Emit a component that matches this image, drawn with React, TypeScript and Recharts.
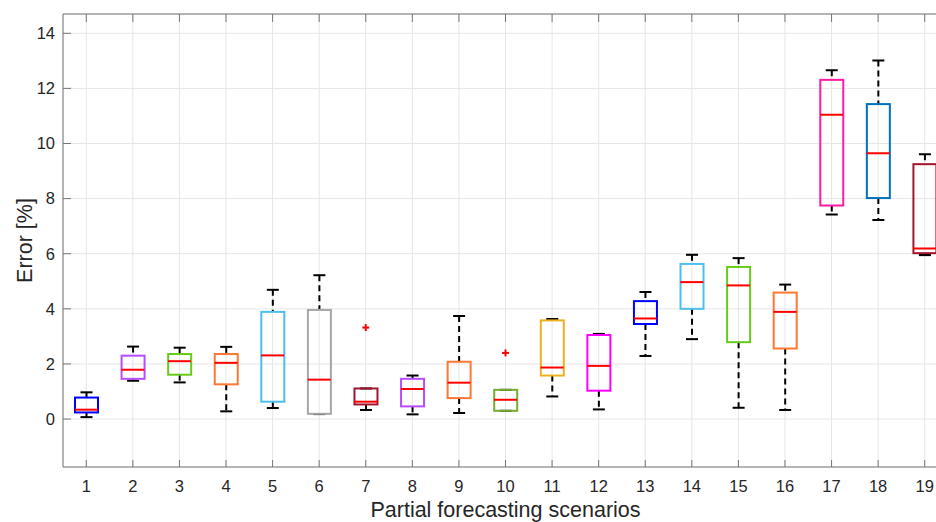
import React from 'react';
import { ComposedChart, Bar, Scatter, XAxis, YAxis, CartesianGrid } from 'recharts';

const scenarios = ['1', '2', '3', '4', '5', '6', '7', '8', '9', '10', '11', '12', '13', '14', '15', '16', '17', '18', '19'];
const whiskerLow = [0.07, 1.39, 1.33, 0.28, 0.4, 0.18, 0.33, 0.17, 0.22, 0.3, 0.82, 0.35, 2.29, 2.9, 0.41, 0.33, 7.42, 7.22, 5.95];
const quartile1 = [0.24, 1.46, 1.61, 1.26, 0.63, 0.19, 0.53, 0.46, 0.76, 0.3, 1.58, 1.03, 3.45, 4.0, 2.79, 2.56, 7.75, 8.02, 6.02];
const medians = [0.34, 1.79, 2.1, 2.04, 2.31, 1.43, 0.63, 1.09, 1.32, 0.7, 1.87, 1.93, 3.65, 4.97, 4.85, 3.89, 11.04, 9.65, 6.19];
const quartile3 = [0.78, 2.3, 2.36, 2.36, 3.89, 3.96, 1.11, 1.46, 2.08, 1.06, 3.58, 3.05, 4.28, 5.63, 5.52, 4.59, 12.31, 11.43, 9.25];
const whiskerHigh = [0.97, 2.63, 2.59, 2.62, 4.69, 5.22, 1.11, 1.58, 3.74, 1.06, 3.63, 3.09, 4.61, 5.96, 5.84, 4.88, 12.66, 13.01, 9.61];
const outlierScenarios = ['7', '10'];
const outlierValues = [3.32, 2.4];
const yTicks = [0, 2, 4, 6, 8, 10, 12, 14];

const boxColors = [
  '#0000ff', '#b84cff', '#66cc1a', '#ff7733', '#4dbeee', '#a6a6a6', '#a2142f', '#b84cff', '#ff7733', '#77ac30',
  '#edb120', '#ff00ff', '#0000ff', '#4dbeee', '#66cc1a', '#ff7733', '#ff1aa6', '#0072bd', '#a2142f',
];

const data = scenarios.map((name, i) => {
  const k = outlierScenarios.indexOf(name);
  return {
    name,
    lower: [whiskerLow[i], quartile1[i]],
    box: [quartile1[i], quartile3[i]],
    upper: [quartile3[i], whiskerHigh[i]],
    median: medians[i],
    outlier: k >= 0 ? outlierValues[k] : null,
    color: boxColors[i],
  };
});

const font = '"Liberation Sans", Arial, Helvetica, sans-serif';
const axisGray = '#767676';
const textColor = '#262626';

const UpperWhisker = (p: any) => {
  const cx = p.x + p.width / 2;
  return (
    <g>
      <line x1={cx} x2={cx} y1={p.y} y2={p.y + p.height} stroke="#000" strokeWidth={2} strokeDasharray="6 4" />
      <line x1={cx - 6} x2={cx + 6} y1={p.y} y2={p.y} stroke="#000" strokeWidth={2} />
    </g>
  );
};

const LowerWhisker = (p: any) => {
  const cx = p.x + p.width / 2;
  const yb = p.y + p.height;
  return (
    <g>
      <line x1={cx} x2={cx} y1={p.y} y2={yb} stroke="#000" strokeWidth={2} strokeDasharray="6 4" />
      <line x1={cx - 6} x2={cx + 6} y1={yb} y2={yb} stroke="#000" strokeWidth={2} />
    </g>
  );
};

const BoxShape = (p: any) => (
  <rect x={p.x} y={p.y} width={p.width} height={p.height} fill="none" stroke={p.payload.color} strokeWidth={2} />
);

const MedianShape = (p: any) => (
  <line x1={p.cx - 11.5} x2={p.cx + 11.5} y1={p.cy} y2={p.cy} stroke="#ff0000" strokeWidth={2} />
);

const OutlierShape = (p: any) => {
  if (p.payload == null || p.payload.outlier == null || p.cy == null) return <g />;
  return (
    <g stroke="#ff0000" strokeWidth={2}>
      <line x1={p.cx - 3.5} x2={p.cx + 3.5} y1={p.cy} y2={p.cy} />
      <line x1={p.cx} x2={p.cx} y1={p.cy - 3.5} y2={p.cy + 3.5} />
    </g>
  );
};

const tickStyle = { fill: textColor, fontSize: 16.5, fontFamily: font };

export default function App() {
  return (
    <div style={{ position: 'fixed', left: 0, top: 0, width: 936, height: 522, overflow: 'hidden', background: '#fff' }}>
      <ComposedChart width={948} height={522} data={data} margin={{ top: 13, right: 0, bottom: 0, left: 0 }}>
        <CartesianGrid xAxisId="b" stroke="#e6e6e6" />
        <XAxis
          xAxisId="b"
          dataKey="name"
          height={55}
          tickSize={-7}
          tickMargin={20}
          tick={tickStyle}
          axisLine={{ stroke: axisGray }}
          tickLine={{ stroke: axisGray }}
          label={(lp: any) => {
            const vb = lp.viewBox;
            return (
              <text x={vb.x + vb.width / 2} y={517} textAnchor="middle" fill={textColor} fontSize={21.5} fontFamily={font}>
                Partial forecasting scenarios
              </text>
            );
          }}
        />
        <XAxis
          xAxisId="t"
          dataKey="name"
          orientation="top"
          height={1}
          tickSize={-8}
          tickFormatter={() => ''}
          axisLine={{ stroke: axisGray }}
          tickLine={{ stroke: axisGray }}
        />
        <XAxis xAxisId="u" dataKey="name" hide />
        <XAxis xAxisId="l" dataKey="name" hide />
        <YAxis
          width={63}
          domain={[-1.74, 14.7]}
          ticks={yTicks}
          allowDataOverflow
          tickSize={-8}
          tickMargin={16}
          tick={tickStyle}
          axisLine={{ stroke: axisGray }}
          tickLine={{ stroke: axisGray }}
          label={(lp: any) => {
            const vb = lp.viewBox;
            const cx = 31.5;
            const cy = vb.y + vb.height / 2;
            return (
              <text x={cx} y={cy} transform={`rotate(-90 ${cx} ${cy})`} textAnchor="middle" fill={textColor} fontSize={21.5} fontFamily={font}>
                Error [%]
              </text>
            );
          }}
        />
        <Bar xAxisId="u" dataKey="upper" barSize={23} shape={UpperWhisker} isAnimationActive={false} />
        <Bar xAxisId="l" dataKey="lower" barSize={23} shape={LowerWhisker} isAnimationActive={false} />
        <Bar xAxisId="b" dataKey="box" barSize={23} shape={BoxShape} isAnimationActive={false} />
        <Scatter xAxisId="b" dataKey="median" shape={MedianShape} isAnimationActive={false} />
        <Scatter xAxisId="b" dataKey="outlier" shape={OutlierShape} isAnimationActive={false} />
      </ComposedChart>
    </div>
  );
}
